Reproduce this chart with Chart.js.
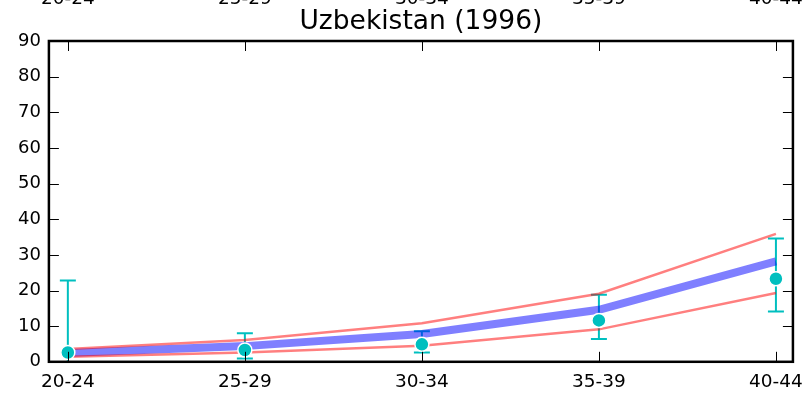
<!DOCTYPE html>
<html>
<head>
<meta charset="utf-8">
<script src="https://cdn.jsdelivr.net/npm/chart.js@4/dist/chart.umd.min.js"></script>
<style>
html,body{margin:0;padding:0;background:#fff;}
canvas{display:block;}
</style>
</head>
<body>
<canvas id="c" width="803" height="393"></canvas>
<script>
const categories = ["20-24","25-29","30-34","35-39","40-44"];
const yTicks = [0,10,20,30,40,50,60,70,80,90];
const modelMid = [2.5, 4.4, 7.8, 14.6, 28.2];
const modelUpper = [3.6, 6.1, 10.8, 19.1, 35.9];
const modelLower = [1.4, 2.6, 4.5, 9.1, 19.3];
const observed = [2.6, 3.3, 4.9, 11.6, 23.3];
const errHigh = [22.8, 8.0, 8.6, 18.8, 34.6];
const errLow = [-2.0, 0.9, 2.6, 6.4, 14.1];
const titleText = "Uzbekistan (1996)";

const FONT = "'DejaVu Sans', sans-serif";
const toXY = arr => arr.map((v,i)=>({x:i,y:v}));

const errPlugin = {
  id:'err',
  beforeDatasetsDraw(chart){
    const {ctx, chartArea:a, scales:{x,y}} = chart;
    ctx.save();
    ctx.beginPath(); ctx.rect(a.left,a.top,a.right-a.left,a.bottom-a.top); ctx.clip();
    ctx.strokeStyle = '#00BFBF'; ctx.lineWidth = 2;
    categories.forEach((c,i)=>{
      const px = x.getPixelForValue(i);
      const yt = y.getPixelForValue(errHigh[i]);
      const yb = y.getPixelForValue(errLow[i]);
      ctx.beginPath();
      ctx.moveTo(px,yt); ctx.lineTo(px,yb);
      ctx.moveTo(px-8,yt); ctx.lineTo(px+8,yt);
      ctx.moveTo(px-8,yb); ctx.lineTo(px+8,yb);
      ctx.stroke();
    });
    ctx.restore();
  }
};

const framePlugin = {
  id:'frame',
  afterDatasetsDraw(chart){
    const {ctx, chartArea:a, scales:{x,y}} = chart;
    ctx.save();
    ctx.strokeStyle = '#000'; ctx.lineWidth = 1;
    const L = 10;
    ctx.beginPath();
    yTicks.forEach(v=>{
      const py = Math.round(y.getPixelForValue(v))+0.5;
      ctx.moveTo(a.left,py); ctx.lineTo(a.left+L,py);
      ctx.moveTo(a.right,py); ctx.lineTo(a.right-L,py);
    });
    categories.forEach((c,i)=>{
      const px = Math.round(x.getPixelForValue(i))+0.5;
      ctx.moveTo(px,a.bottom); ctx.lineTo(px,a.bottom-L);
      ctx.moveTo(px,a.top); ctx.lineTo(px,a.top+L);
    });
    ctx.stroke();
    ctx.lineWidth = 2.5;
    ctx.strokeRect(a.left,a.top,a.right-a.left,a.bottom-a.top);
    ctx.fillStyle = '#000';
    // title centred over the plot area
    ctx.font = '26.5px ' + FONT;
    ctx.textAlign = 'center';
    ctx.textBaseline = 'alphabetic';
    ctx.fillText(titleText, (a.left+a.right)/2, 28.5);
    // top tick labels (cut off at the top edge)
    ctx.font = '18.5px ' + FONT;
    categories.forEach((c,i)=>{
      ctx.fillText(c, x.getPixelForValue(i), 4);
    });
    ctx.restore();
  }
};

new Chart(document.getElementById('c'), {
  type:'line',
  data:{
    datasets:[
      {label:'observed', data:toXY(observed), showLine:false, order:0,
       pointRadius:7, pointBackgroundColor:'#00BFBF', pointBorderColor:'#ffffff', pointBorderWidth:1.5},
      {label:'mid', data:toXY(modelMid), order:2, borderColor:'rgba(0,0,255,0.5)', borderWidth:8, pointRadius:0, fill:false, tension:0},
      {label:'upper', data:toXY(modelUpper), order:1, borderColor:'rgba(255,0,0,0.5)', borderWidth:2.5, pointRadius:0, fill:false, tension:0},
      {label:'lower', data:toXY(modelLower), order:1, borderColor:'rgba(255,0,0,0.5)', borderWidth:2.5, pointRadius:0, fill:false, tension:0}
    ]
  },
  options:{
    responsive:false, animation:false,
    layout:{padding:{left:10,right:0,top:41,bottom:0}},
    plugins:{
      legend:{display:false}, tooltip:{enabled:false}, title:{display:false}
    },
    scales:{
      x:{type:'linear', min:-0.107, max:4.096,
         afterBuildTicks(s){ s.ticks = categories.map((c,i)=>({value:i})); },
         ticks:{callback:(v)=>categories[v], color:'#000', font:{family:FONT,size:18.5}, padding:0, maxRotation:0, autoSkip:false},
         grid:{display:true, drawOnChartArea:false, drawTicks:true, tickLength:9, tickColor:'rgba(0,0,0,0)'}, border:{display:false}},
      y:{min:0, max:90,
         afterBuildTicks(s){ s.ticks = yTicks.map(v=>({value:v})); },
         ticks:{color:'#000', font:{family:FONT,size:18}, padding:8},
         grid:{display:false, drawTicks:false}, border:{display:false}}
    }
  },
  plugins:[errPlugin, framePlugin]
});
</script>
</body>
</html>
